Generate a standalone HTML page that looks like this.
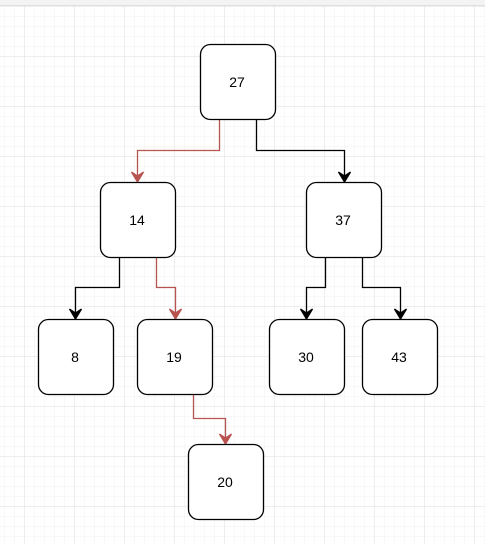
<!DOCTYPE html>
<html><head><style>
html,body{margin:0;padding:0;width:485px;height:544px;overflow:hidden;background:#fff}
</style></head><body>
<svg width="485" height="544" xmlns="http://www.w3.org/2000/svg" font-family="Liberation Sans, sans-serif">
<defs>
<pattern id="minor" x="4" y="6" width="10" height="10" patternUnits="userSpaceOnUse">
<path d="M0 0H10M0 0V10" stroke="#f0f0f0" stroke-width="1" fill="none"/>
</pattern>
<pattern id="major" x="24" y="6" width="50" height="50" patternUnits="userSpaceOnUse">
<path d="M0 0H50M0 0V50" stroke="#dcdcdc" stroke-width="1" fill="none"/>
</pattern>
<marker id="ab" markerWidth="10" markerHeight="10" refX="5" refY="9" orient="auto-start-reverse" markerUnits="userSpaceOnUse"><path d="M0,0 L5,9 L10,0 L5,3 Z" fill="#000"/></marker>
</defs>
<rect x="0" y="6" width="485" height="538" fill="url(#minor)"/>
<rect x="0" y="6" width="485" height="538" fill="url(#major)"/>
<rect x="0" y="0" width="485" height="5" fill="#f3f3f3"/>
<line x1="0" y1="5.5" x2="485" y2="5.5" stroke="#e0e0e0"/>
<g fill="none" stroke-width="1.3">
<path d="M219.5 119V150.5H137.5V176" stroke="#b85450"/>
<path d="M131.5 172 L137.5 182 L143.5 172 L137.5 176Z" fill="#b85450" stroke="#b85450"/>
<path d="M256.5 119V150.5H344.5V176" stroke="#000"/>
<path d="M338.5 172 L344.5 182 L350.5 172 L344.5 176Z" fill="#000" stroke="#000"/>
<path d="M119.5 257V287.5H75.5V313" stroke="#000"/>
<path d="M69.5 309 L75.5 319 L81.5 309 L75.5 313Z" fill="#000" stroke="#000"/>
<path d="M156.5 257V287.5H175.5V313" stroke="#b85450"/>
<path d="M169.5 309 L175.5 319 L181.5 309 L175.5 313Z" fill="#b85450" stroke="#b85450"/>
<path d="M325.5 257V287.5H306.5V313" stroke="#000"/>
<path d="M300.5 309 L306.5 319 L312.5 309 L306.5 313Z" fill="#000" stroke="#000"/>
<path d="M362.5 257V287.5H400.5V313" stroke="#000"/>
<path d="M394.5 309 L400.5 319 L406.5 309 L400.5 313Z" fill="#000" stroke="#000"/>
<path d="M193.5 394V418.5H225.5V438" stroke="#b85450"/>
<path d="M219.5 434 L225.5 444 L231.5 434 L225.5 438Z" fill="#b85450" stroke="#b85450"/>
</g>
<g fill="#fff" stroke="#000" stroke-width="1.3">
<rect x="200.5" y="44.5" width="75" height="75" rx="10"/>
<rect x="100.5" y="182.5" width="75" height="75" rx="10"/>
<rect x="306.5" y="182.5" width="75" height="75" rx="10"/>
<rect x="38.5" y="319.5" width="75" height="75" rx="10"/>
<rect x="137.5" y="319.5" width="75" height="75" rx="10"/>
<rect x="269.5" y="319.5" width="75" height="75" rx="10"/>
<rect x="362.5" y="319.5" width="75" height="75" rx="10"/>
<rect x="188.5" y="444.5" width="75" height="75" rx="10"/>
</g>
<g font-size="14" text-anchor="middle" fill="#000">
<text x="237" y="87">27</text>
<text x="137" y="225">14</text>
<text x="343" y="225">37</text>
<text x="75" y="362">8</text>
<text x="174" y="362">19</text>
<text x="306" y="362">30</text>
<text x="399" y="362">43</text>
<text x="225" y="487">20</text>
</g>
</svg>
</body></html>
